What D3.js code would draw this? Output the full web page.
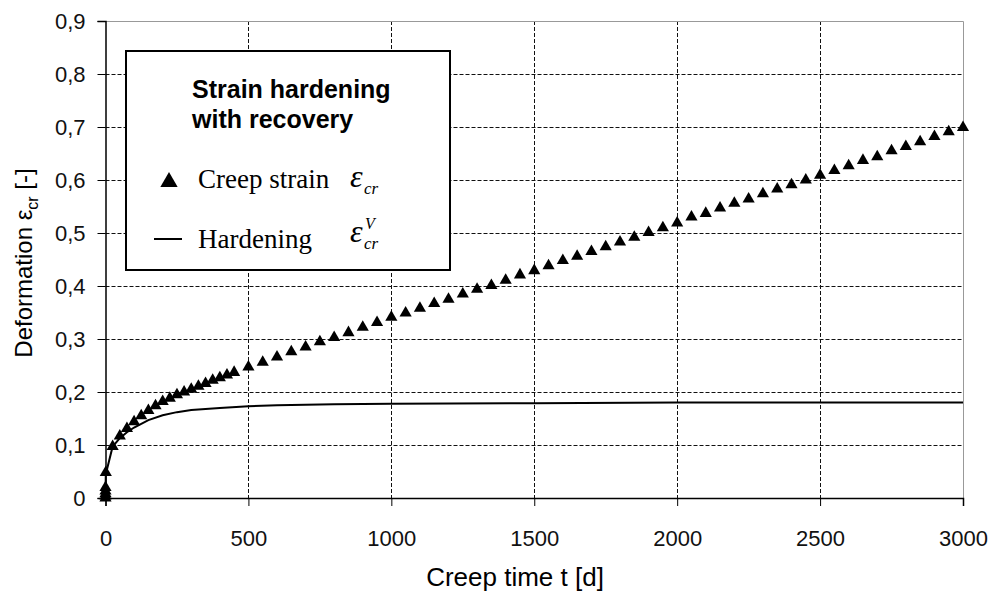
<!DOCTYPE html>
<html>
<head>
<meta charset="utf-8">
<script src="https://cdn.jsdelivr.net/npm/d3@7"></script>
<style>
  body { margin: 0; background: white; }
</style>
</head>
<body>
<div id="vis"></div>
<script>
// creep strain (t in days)
let creepT = [0, 0, 0, 0, 0, 1,
  25, 50, 75, 100, 125, 150, 175, 200, 225, 250, 275, 300, 325, 350, 375, 400, 425, 450,
  500, 550, 600, 650, 700, 750, 800, 850, 900, 950, 1000,
  1050, 1100, 1150, 1200, 1250, 1300, 1350, 1400, 1450, 1500,
  1550, 1600, 1650, 1700, 1750, 1800, 1850, 1900, 1950, 2000,
  2050, 2100, 2150, 2200, 2250, 2300, 2350, 2400, 2450, 2500,
  2550, 2600, 2650, 2700, 2750, 2800, 2850, 2900, 2950, 3000]
let creepStrain = [0, 0.004, 0.008, 0.013, 0.02, 0.048,
  0.097, 0.117, 0.131, 0.144, 0.155, 0.165, 0.174, 0.182, 0.188, 0.195, 0.200, 0.205, 0.211, 0.216, 0.222, 0.227, 0.232, 0.237,
  0.247, 0.256, 0.266, 0.276, 0.285, 0.295, 0.303, 0.312, 0.322, 0.331, 0.341,
  0.349, 0.358, 0.367, 0.375, 0.385, 0.394, 0.401, 0.411, 0.421, 0.429,
  0.438, 0.448, 0.456, 0.465, 0.474, 0.483, 0.492, 0.501, 0.510, 0.519,
  0.530, 0.537, 0.547, 0.556, 0.564, 0.574, 0.583, 0.591, 0.600, 0.609,
  0.618, 0.627, 0.637, 0.644, 0.655, 0.663, 0.672, 0.682, 0.691, 0.699]

// hardening strain
let hardT = [0, 1, 25, 50, 75, 100, 150, 200, 250, 300, 400, 500, 600, 700, 800, 1000, 1500, 2000, 3000]
let hardStrain = [0, 0.045, 0.097, 0.113, 0.124, 0.133, 0.147, 0.156, 0.162, 0.166, 0.170, 0.173, 0.175, 0.176, 0.177, 0.178, 0.179, 0.18, 0.18]

let xTicks = [0, 500, 1000, 1500, 2000, 2500, 3000]
let yTicks = [0, 0.1, 0.2, 0.3, 0.4, 0.5, 0.6, 0.7, 0.8, 0.9]

let width = 992, height = 594
let plot = { left: 105.5, right: 963, top: 21, bottom: 498 }
let sans = '"Liberation Sans", Arial, sans-serif'
let serif = '"Liberation Serif", "Times New Roman", serif'

let svg = d3.select('#vis')
  .append('svg')
  .attr('width', width)
  .attr('height', height)
  .style('background-color', 'white')
  .style('font-family', sans)

let x = d3.scaleLinear().domain([0, 3000]).range([plot.left, plot.right])
let y = d3.scaleLinear().domain([0, 0.9]).range([plot.bottom, plot.top])

// grid
svg.append('g')
  .selectAll('line')
  .data(yTicks.filter(d => d > 0 && d < 0.9))
  .join('line')
  .attr('x1', plot.left).attr('x2', plot.right)
  .attr('y1', d => Math.round(y(d)) + 0.5).attr('y2', d => Math.round(y(d)) + 0.5)
  .attr('stroke', '#111')
  .attr('stroke-dasharray', '4,2')

svg.append('g')
  .selectAll('line')
  .data(xTicks.filter(d => d > 0 && d < 3000))
  .join('line')
  .attr('x1', d => Math.round(x(d)) + 0.5).attr('x2', d => Math.round(x(d)) + 0.5)
  .attr('y1', plot.top).attr('y2', plot.bottom)
  .attr('stroke', '#111')
  .attr('stroke-dasharray', '4,2')

// frame top + right (grey)
svg.append('path')
  .attr('d', `M${plot.left},${plot.top + 0.5}H${plot.right + 0.5}V${plot.bottom}`)
  .attr('fill', 'none')
  .attr('stroke', '#999')

// axes
let xAxis = svg.append('g')
  .attr('transform', `translate(0,${plot.bottom})`)
  .call(d3.axisBottom(x).tickValues(xTicks).tickSize(8).tickFormat(d3.format('d')))
let yAxis = svg.append('g')
  .attr('transform', `translate(${plot.left},0)`)
  .call(d3.axisLeft(y).tickValues(yTicks).tickSize(8)
    .tickFormat(d => d === 0 ? '0' : d3.format('.1f')(d).replace('.', ',')))

xAxis.select('.domain').attr('stroke', 'black').attr('stroke-width', 1.5)
yAxis.select('.domain').attr('stroke', 'black').attr('stroke-width', 1.5)
svg.selectAll('.tick line').attr('stroke', 'black')
xAxis.selectAll('.tick text').attr('font-size', 22).attr('dy', null).attr('y', 48)
  .attr('font-family', sans).attr('fill', '#111')
yAxis.selectAll('.tick text').attr('font-size', 22).attr('x', -20).attr('dy', '0.36em')
  .attr('font-family', sans).attr('fill', '#111')

// hardening line
let line = d3.line().x((d, i) => x(hardT[i])).y(d => y(d))
svg.append('path')
  .datum(hardStrain)
  .attr('d', line)
  .attr('fill', 'none')
  .attr('stroke', 'black')
  .attr('stroke-width', 2)

// creep points
svg.append('g')
  .selectAll('path')
  .data(creepStrain)
  .join('path')
  .attr('transform', (d, i) => `translate(${x(creepT[i])},${y(d)})`)
  .attr('d', d3.symbol(d3.symbolTriangle, 64))
  .attr('fill', 'black')

// axis titles
svg.append('text')
  .attr('x', 515).attr('y', 586)
  .attr('text-anchor', 'middle')
  .attr('font-size', 26)
  .text('Creep time t [d]')

let yTitle = svg.append('text')
  .attr('transform', 'translate(32,263) rotate(-90)')
  .attr('text-anchor', 'middle')
  .attr('font-size', 24)
yTitle.append('tspan').text('Deformation ε')
yTitle.append('tspan').attr('dy', 6).attr('font-size', 16).text('cr')
yTitle.append('tspan').attr('dy', -6).text(' [-]')

// legend
let leg = svg.append('g')
leg.append('rect')
  .attr('x', 126).attr('y', 51).attr('width', 324).attr('height', 219)
  .attr('fill', 'white').attr('stroke', 'black').attr('stroke-width', 2)

leg.append('text').attr('x', 192).attr('y', 98)
  .attr('font-size', 25).attr('font-weight', 'bold').text('Strain hardening')
leg.append('text').attr('x', 192).attr('y', 128)
  .attr('font-size', 25).attr('font-weight', 'bold').text('with recovery')

leg.append('path')
  .attr('transform', 'translate(169,182)')
  .attr('d', d3.symbol(d3.symbolTriangle, 130))
  .attr('fill', 'black')
leg.append('line')
  .attr('x1', 154).attr('x2', 182).attr('y1', 239).attr('y2', 239)
  .attr('stroke', 'black').attr('stroke-width', 2)

leg.append('text').attr('x', 198).attr('y', 188)
  .style('font-family', serif).attr('font-size', 27).text('Creep strain')
leg.append('text').attr('x', 198).attr('y', 248)
  .style('font-family', serif).attr('font-size', 27).text('Hardening')

leg.append('text').attr('x', 350).attr('y', 187)
  .style('font-family', serif).attr('font-style', 'italic').attr('font-size', 32).text('ε')
leg.append('text').attr('x', 364).attr('y', 194)
  .style('font-family', serif).attr('font-style', 'italic').attr('font-size', 17).text('cr')
leg.append('text').attr('x', 350).attr('y', 242)
  .style('font-family', serif).attr('font-style', 'italic').attr('font-size', 32).text('ε')
leg.append('text').attr('x', 365).attr('y', 229)
  .style('font-family', serif).attr('font-style', 'italic').attr('font-size', 16).text('V')
leg.append('text').attr('x', 364).attr('y', 249)
  .style('font-family', serif).attr('font-style', 'italic').attr('font-size', 17).text('cr')
</script>
</body>
</html>
